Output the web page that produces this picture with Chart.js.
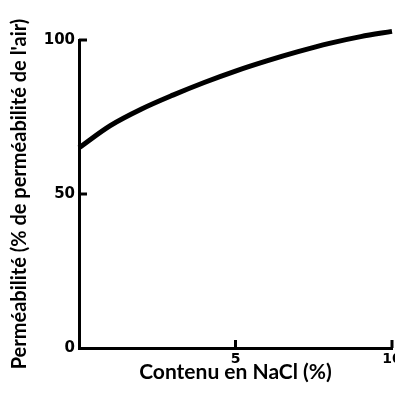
<!DOCTYPE html>
<html lang="fr">

<head>
    <meta charset="UTF-8">
    <script src="https://cdn.jsdelivr.net/npm/chart.js"></script>
    <title>Perméabilité</title>
    <style>
        html, body { margin: 0; padding: 0; background: white; }
        .chart-box { width: 395px; height: 396px; }
    </style>
</head>

<body>
    <div class="chart-box">
        <canvas id="graficoNaCl"></canvas>
    </div>
</body>

</html>
<script>

    // Valores
    const teorNaCl = [0, 1, 2, 3, 4, 5, 6, 7, 8, 9, 10];
    const permeabilidade = [65, 72.2, 77.6, 82.1, 86.2, 89.9, 93.2, 96.2, 98.9, 101.1, 102.8];
    const ticksX = [5, 10];
    const ticksY = [0, 50, 100];

    const tituloX = 'Contenu en NaCl (%)';
    const tituloY = 'Perméabilité (% de perméabilité de l\'air)';

    // desenha os tracinhos para dentro do grafico
    const tracosInternos = {
        id: 'tracosInternos',
        afterDraw(chart) {
            const ctx = chart.ctx;
            const x = chart.scales.x;
            const y = chart.scales.y;
            ctx.save();
            ctx.strokeStyle = 'black';
            ctx.lineWidth = 3;
            ticksX.forEach(function (v) {
                const px = x.getPixelForValue(v);
                ctx.beginPath();
                ctx.moveTo(px, y.bottom);
                ctx.lineTo(px, y.bottom - 8);
                ctx.stroke();
            });
            ticksY.slice(1).forEach(function (v) {
                const py = y.getPixelForValue(v);
                ctx.beginPath();
                ctx.moveTo(x.left, py);
                ctx.lineTo(x.left + 8, py);
                ctx.stroke();
            });
            ctx.restore();
        }
    };

    const dados = {
        labels: teorNaCl,
        datasets: [{
            data: teorNaCl.map((v, i) => ({ x: v, y: permeabilidade[i] })),
            borderColor: 'black',
            borderWidth: 5,
            pointRadius: 0,
            fill: false,
            cubicInterpolationMode: 'monotone',
            clip: false
        }]
    };

    const config = {
        type: 'line',
        data: dados,
        options: {
            responsive: true,
            maintainAspectRatio: false,
            animation: false,
            layout: { padding: { top: 40, right: 3, left: 8, bottom: 11 } },
            plugins: {
                legend: { display: false },
                tooltip: { enabled: false }
            },
            scales: {
                x: {
                    type: 'linear',
                    min: 0,
                    max: 10,
                    afterBuildTicks: function (scale) {
                        scale.ticks = [0].concat(ticksX).map(v => ({ value: v }));
                    },
                    afterFit: function (scale) {
                        scale.height = 37;
                        scale.paddingRight = 0;
                        scale.paddingLeft = 0;
                    },
                    grid: { display: false, drawTicks: false },
                    border: { display: true, color: 'black', width: 3 },
                    ticks: {
                        color: 'black',
                        padding: 3,
                        maxRotation: 0,
                        font: { family: 'DejaVu Sans', size: 14, weight: 'bold' },
                        callback: function (v) { return v === 0 ? '' : v; }
                    },
                    title: {
                        display: true,
                        text: tituloX,
                        color: 'black',
                        padding: { top: 0, bottom: 0 },
                        font: { family: 'Lato', size: 21, weight: 'bold' }
                    }
                },
                y: {
                    min: 0,
                    max: 100,
                    afterBuildTicks: function (scale) {
                        scale.ticks = ticksY.map(v => ({ value: v }));
                    },
                    afterFit: function (scale) {
                        scale.width = 71;
                    },
                    grid: { display: false, drawTicks: false },
                    border: { display: true, color: 'black', width: 3 },
                    ticks: {
                        color: 'black',
                        padding: 4,
                        font: { family: 'DejaVu Sans', size: 15, weight: 'bold' }
                    },
                    title: {
                        display: true,
                        text: tituloY,
                        color: 'black',
                        padding: { top: 0, bottom: 0 },
                        font: { family: 'Lato', size: 20, weight: 'bold' }
                    }
                }
            }
        },
        plugins: [tracosInternos]
    };

    let graficoNaCl = new Chart(document.getElementById('graficoNaCl'), config);

</script>
